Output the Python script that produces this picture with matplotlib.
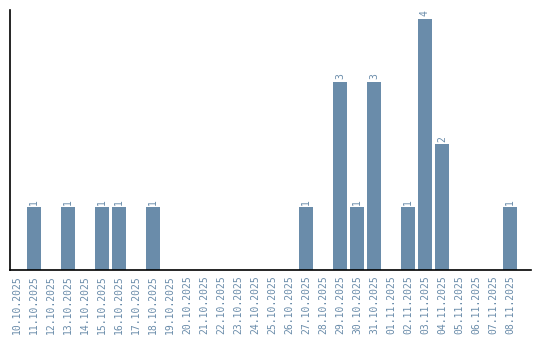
import numpy as np
import matplotlib.pyplot as plt

# dates and counts
dates = ['10.10.2025', '11.10.2025', '12.10.2025', '13.10.2025', '14.10.2025',
         '15.10.2025', '16.10.2025', '17.10.2025', '18.10.2025', '19.10.2025',
         '20.10.2025', '21.10.2025', '22.10.2025', '23.10.2025', '24.10.2025',
         '25.10.2025', '26.10.2025', '27.10.2025', '28.10.2025', '29.10.2025',
         '30.10.2025', '31.10.2025', '01.11.2025', '02.11.2025', '03.11.2025',
         '04.11.2025', '05.11.2025', '06.11.2025', '07.11.2025', '08.11.2025']
counts = [0, 1, 0, 1, 0, 1, 1, 0, 1, 0,
          0, 0, 0, 0, 0, 0, 0, 1, 0, 3,
          1, 3, 0, 1, 4, 2, 0, 0, 0, 1]

color = '#6a8caa'

fig = plt.figure(figsize=(5.4, 3.4), dpi=100)
ax = fig.add_axes([10/540, 70/340, 521/540, 260/340])

x = np.arange(len(dates))
ax.bar(x, counts, width=0.82, color=color)

for xi, c in zip(x, counts):
    if c > 0:
        ax.text(xi, c + 0.04, str(c), rotation=90, ha='center', va='bottom',
                fontsize=7, color=color, family='DejaVu Sans Mono')

ax.set_xlim(-0.41, 30.24)
ax.set_ylim(0, 4.14)
ax.set_xticks(x)
ax.set_xticklabels(dates, rotation=90, fontsize=7, color=color,
                   family='DejaVu Sans Mono')
ax.tick_params(axis='x', length=0, pad=4)
ax.set_yticks([])
ax.spines['top'].set_visible(False)
ax.spines['right'].set_visible(False)
ax.spines['left'].set_linewidth(1.2)
ax.spines['bottom'].set_linewidth(1.2)

fig.savefig('out.png', dpi=100)
